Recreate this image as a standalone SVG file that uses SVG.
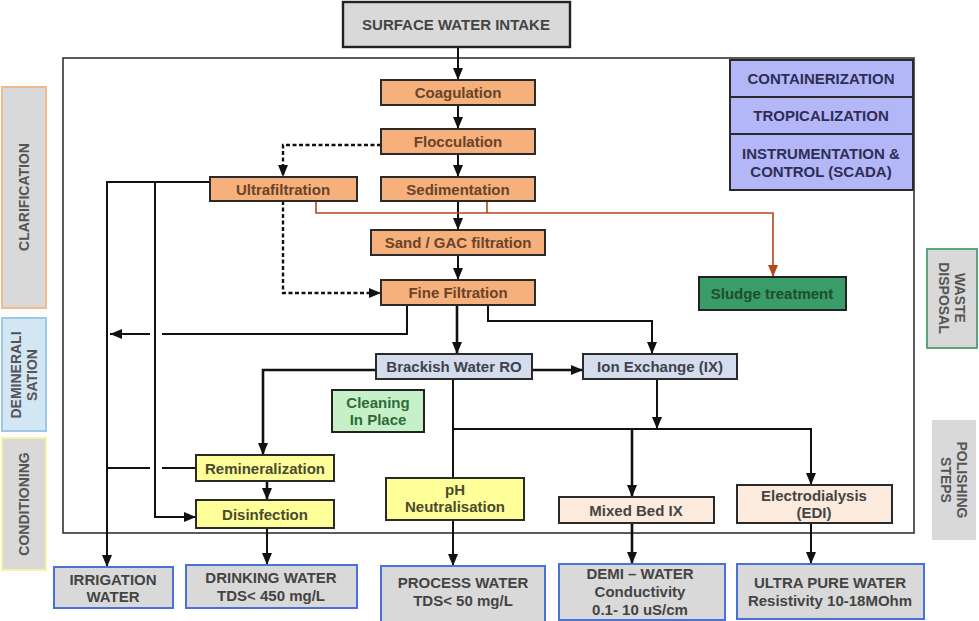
<svg xmlns="http://www.w3.org/2000/svg" width="979" height="621" viewBox="0 0 979 621">
<defs>
<marker id="ah" markerUnits="userSpaceOnUse" markerWidth="12" markerHeight="12" viewBox="0 0 12 12" refX="12" refY="6" orient="auto"><path d="M0,1 L12,6 L0,11 z" fill="#111"/></marker>
<marker id="ahb" markerUnits="userSpaceOnUse" markerWidth="12" markerHeight="12" viewBox="0 0 12 12" refX="12" refY="6" orient="auto"><path d="M0,1 L12,6 L0,11 z" fill="#b5471b"/></marker>
<style>
text{font-family:"Liberation Sans",Arial,sans-serif;font-weight:bold;text-anchor:middle;dominant-baseline:central;font-size:15px}
.org rect{fill:#f5b07c;stroke:#2a2a2a;stroke-width:2}
.org text{fill:#6a4328}
.blu rect{fill:#d5dcec;stroke:#2a2a2a;stroke-width:2}
.blu text{fill:#3c4250}
.yel rect{fill:#ffff99;stroke:#2a2a2a;stroke-width:2}
.yel text{fill:#4a4a30}
.pch rect{fill:#fcebdd;stroke:#2a2a2a;stroke-width:2}
.pch text{fill:#444}
.out rect{fill:#d9d9d9;stroke:#4a72d4;stroke-width:2}
.out text{fill:#444}
.lav rect{fill:#b4b7f7;stroke:#2a2a2a;stroke-width:2}
.lav text{fill:#2e2e55}
.side text{fill:#555;font-size:14px}
.c{fill:none;stroke:#111;stroke-width:2}
.t{stroke-width:2.6}
.d{stroke-dasharray:4 2.5;stroke-width:2.4}
.br{fill:none;stroke:#b5471b;stroke-width:1.6}
</style>
</defs>
<rect x="63" y="58" width="851" height="475" fill="none" stroke="#333" stroke-width="1.6"/>

<g id="side-clarification" class="side"><rect x="2" y="87" width="44" height="221" fill="#d9d9d9" stroke="#f4b98a" stroke-width="2"/><text transform="translate(24,197) rotate(-90)">CLARIFICATION</text></g>
<g id="side-demineralisation" class="side"><rect x="2" y="318" width="44" height="113" fill="#d2e6f4" stroke="#9cc8ea" stroke-width="2"/><text transform="translate(24,375) rotate(-90)"><tspan x="0" dy="-8">DEMINERALI</tspan><tspan x="0" dy="16">SATION</tspan></text></g>
<g id="side-conditioning" class="side"><rect x="2" y="438" width="44" height="132" fill="#d9d9d9" stroke="#f6f3a6" stroke-width="2"/><text transform="translate(24,504) rotate(-90)">CONDITIONING</text></g>
<g id="side-waste" class="side"><rect x="927" y="249" width="50" height="99" fill="#d9d9d9" stroke="#5aa57c" stroke-width="2"/><text transform="translate(952,298) rotate(90)"><tspan x="0" dy="-8">WASTE</tspan><tspan x="0" dy="16">DISPOSAL</tspan></text></g>
<g id="side-polishing" class="side"><rect x="932" y="420" width="44" height="120" fill="#d9d9d9"/><text transform="translate(954,480) rotate(90)"><tspan x="0" dy="-8">POLISHING</tspan><tspan x="0" dy="16">STEPS</tspan></text></g>

<g id="connectors">
<path class="c" d="M458,47 V80" marker-end="url(#ah)"/>
<path class="c" d="M458,105 V129" marker-end="url(#ah)"/>
<path class="c" d="M458,154 V177" marker-end="url(#ah)"/>
<path class="c" d="M458,201 V230" marker-end="url(#ah)"/>
<path class="c" d="M458,255 V280" marker-end="url(#ah)"/>
<path class="c d" d="M381,145 H283 V177" marker-end="url(#ah)"/>
<path class="c d" d="M283,201 V293 H381" marker-end="url(#ah)"/>
<path class="br" d="M316,201 V213 H773 V277" marker-end="url(#ahb)"/>
<path class="br" d="M487,201 V213"/>
<path class="c" d="M210,182 H107 V567" marker-end="url(#ah)"/>
<path class="c" d="M155,182 V517 H196" marker-end="url(#ah)"/>
<path class="c" d="M407,305 V334 H162"/>
<path class="c" d="M150,334 H110" marker-end="url(#ah)"/>
<path class="c t" d="M457,305 V354" marker-end="url(#ah)"/>
<path class="c" d="M488,305 V321 H652 V354" marker-end="url(#ah)"/>
<path class="c t" d="M376,370 H263 V455" marker-end="url(#ah)"/>
<path class="c t" d="M532,370 H583" marker-end="url(#ah)"/>
<path class="c" d="M453,379 V478"/>
<path class="c" d="M453,429 H811 V485" marker-end="url(#ah)"/>
<path class="c" d="M657,379 V429" marker-end="url(#ah)"/>
<path class="c t" d="M632,429 V497" marker-end="url(#ah)"/>
<path class="c" d="M196,468 H162"/>
<path class="c" d="M150,468 H107"/>
<path class="c t" d="M267,481 V500" marker-end="url(#ah)"/>
<path class="c" d="M267,528 V565" marker-end="url(#ah)"/>
<path class="c" d="M453,520 V566" marker-end="url(#ah)"/>
<path class="c t" d="M632,523 V564" marker-end="url(#ah)"/>
<path class="c" d="M811,523 V564" marker-end="url(#ah)"/>
</g>

<g id="intake"><rect x="343" y="2" width="227" height="45" fill="#d9d9d9" stroke="#222" stroke-width="2.4"/><text x="456" y="24" fill="#444" font-size="15.5">SURFACE WATER INTAKE</text></g>
<g id="coagulation" class="org"><rect x="381" y="80" width="154" height="25"/><text x="458" y="92.5">Coagulation</text></g>
<g id="flocculation" class="org"><rect x="381" y="129" width="154" height="25"/><text x="458" y="141.5">Flocculation</text></g>
<g id="sedimentation" class="org"><rect x="381" y="177" width="154" height="24"/><text x="458" y="189">Sedimentation</text></g>
<g id="ultrafiltration" class="org"><rect x="210" y="177" width="147" height="24"/><text x="283" y="189">Ultrafiltration</text></g>
<g id="sand" class="org"><rect x="371" y="230" width="174" height="25"/><text x="458" y="242.5">Sand  / GAC filtration</text></g>
<g id="fine" class="org"><rect x="381" y="280" width="154" height="25"/><text x="458" y="292.5">Fine Filtration</text></g>
<g id="sludge"><rect x="699" y="277" width="147" height="33" fill="#3a9c68" stroke="#222" stroke-width="2"/><text x="772" y="293.5" fill="#1f4d30">Sludge treatment</text></g>
<g id="scada" class="lav"><rect x="730" y="60" width="183" height="37"/><text x="821" y="78.5">CONTAINERIZATION</text><rect x="730" y="97" width="183" height="37"/><text x="821" y="115.5">TROPICALIZATION</text><rect x="730" y="134" width="183" height="56"/><text x="821" y="153">INSTRUMENTATION &amp;</text><text x="821" y="171">CONTROL (SCADA)</text></g>
<g id="ro" class="blu"><rect x="376" y="354" width="156" height="25"/><text x="454" y="366.5">Brackish Water RO</text></g>
<g id="ix" class="blu"><rect x="583" y="354" width="154" height="25"/><text x="660" y="366.5">Ion Exchange (IX)</text></g>
<g id="cip"><rect x="332" y="390" width="92" height="42" fill="#c6f1c8" stroke="#222" stroke-width="2"/><text x="378" y="402" fill="#2f6a3a">Cleaning</text><text x="378" y="419" fill="#2f6a3a">In Place</text></g>
<g id="remin" class="yel"><rect x="196" y="455" width="138" height="26"/><text x="265" y="468">Remineralization</text></g>
<g id="disinfection" class="yel"><rect x="196" y="500" width="138" height="28"/><text x="265" y="514">Disinfection</text></g>
<g id="ph" class="yel"><rect x="386" y="478" width="138" height="42"/><text x="455" y="489">pH</text><text x="455" y="506">Neutralisation</text></g>
<g id="mixedbed" class="pch"><rect x="559" y="497" width="155" height="26"/><text x="636" y="510">Mixed Bed IX</text></g>
<g id="edi" class="pch"><rect x="737" y="485" width="155" height="38"/><text x="814" y="495">Electrodialysis</text><text x="814" y="512">(EDI)</text></g>

<g id="irrigation" class="out"><rect x="54" y="567" width="119" height="41"/><text x="113" y="579">IRRIGATION</text><text x="113" y="596">WATER</text></g>
<g id="drinking" class="out"><rect x="186" y="565" width="171" height="43"/><text x="271" y="577">DRINKING WATER</text><text x="271" y="595">TDS&lt; 450 mg/L</text></g>
<g id="process" class="out"><rect x="381" y="566" width="164" height="56"/><text x="463" y="582">PROCESS WATER</text><text x="463" y="600">TDS&lt; 50 mg/L</text></g>
<g id="demi" class="out"><rect x="559" y="564" width="166" height="56"/><text x="640" y="573">DEMI – WATER</text><text x="640" y="591">Conductivity</text><text x="640" y="609">0.1- 10 uS/cm</text></g>
<g id="upw" class="out"><rect x="737" y="564" width="187" height="55"/><text x="830" y="582">ULTRA PURE WATER</text><text x="830" y="600">Resistivity 10-18MOhm</text></g>
</svg>
